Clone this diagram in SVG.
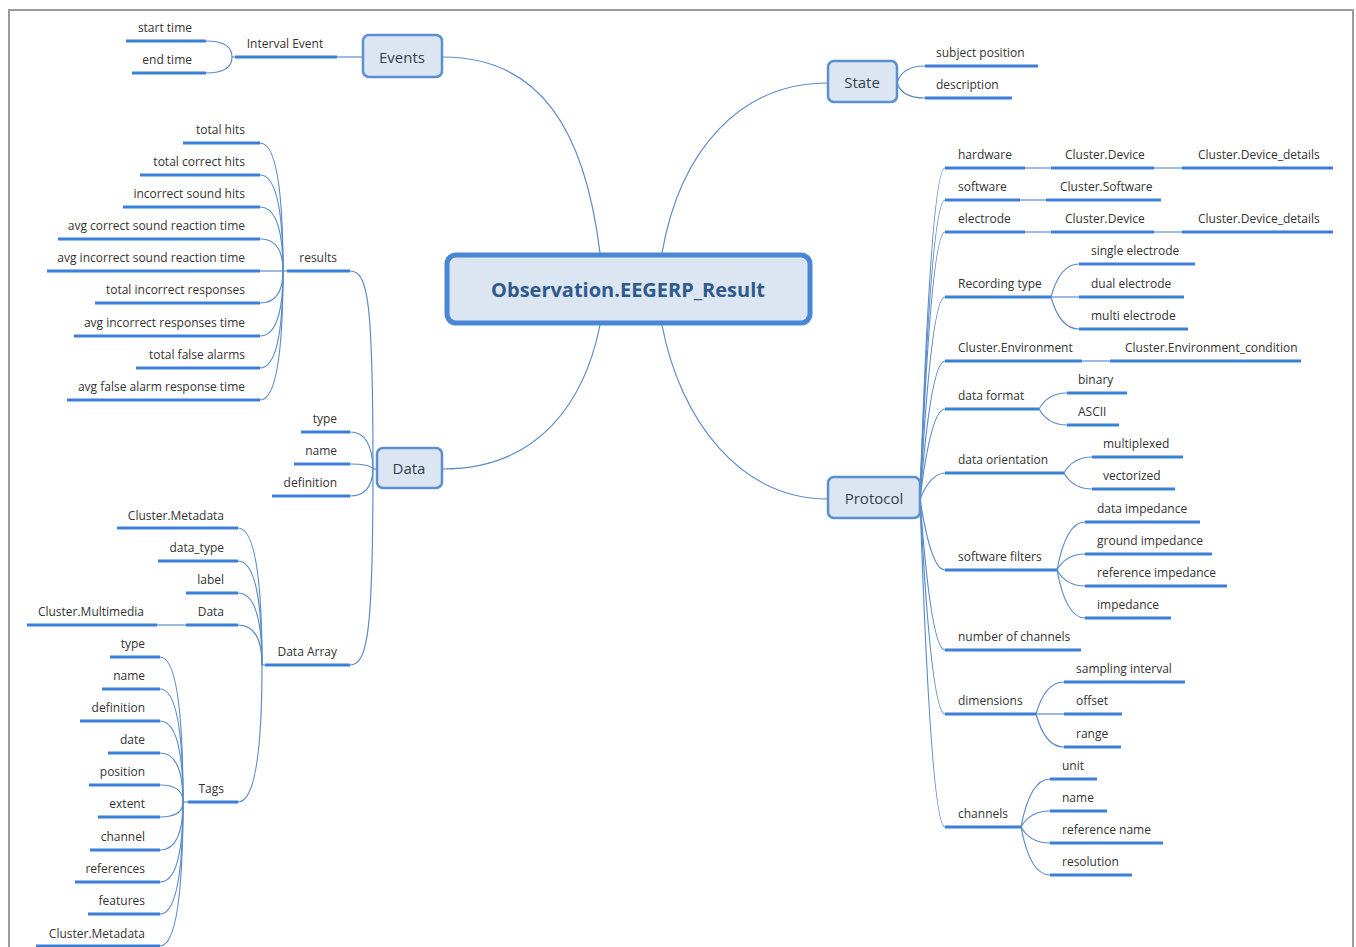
<svg xmlns="http://www.w3.org/2000/svg" width="1356" height="947" viewBox="0 0 1356 947">
  <style>
    .bg { fill: #ffffff; }
    .frame { fill: none; stroke: #9a9a9a; stroke-width: 2; }
    .u { stroke: #3d7fd8; stroke-width: 3; fill: none; }
    .c { stroke: #5b8cc9; stroke-width: 1.2; fill: none; }
    .t { font-family: "Open Sans", "Liberation Sans", sans-serif; font-size: 12px; fill: #333333; }
    .e { text-anchor: end; }
    .m { text-anchor: middle; }
    .box { fill: #dce6f2; stroke: #5b8fd0; stroke-width: 2.5; }
    .bt { font-family: "Open Sans", "Liberation Sans", sans-serif; font-size: 15px; fill: #333f4f; text-anchor: middle; }
    .root { fill: #dce6f2; stroke: #4a86d6; stroke-width: 5; }
    .rt { font-family: "Open Sans", "Liberation Sans", sans-serif; font-size: 20px; font-weight: bold; fill: #2f5a8c; text-anchor: middle; }
  </style>

  <rect class="bg" x="0" y="0" width="1356" height="947"/>
  <path class="frame" d="M9,947 V10 H1353 V947"/>

  <!-- connectors -->
  <g id="connectors">
    <!-- root to main topics -->
    <path class="c" d="M443,57 C540,57 585,130 600,253"/>
    <path class="c" d="M828,83 C740,83 680,150 662,253"/>
    <path class="c" d="M443,469 C540,469 585,400 600,325"/>
    <path class="c" d="M828,499 C740,499 680,420 662,325"/>

    <!-- Events -->
    <path class="c" d="M337,57 H363"/>
    <path class="c" d="M206,41 Q232,41 232,57"/>
    <path class="c" d="M206,73 Q232,73 232,57"/>
    <path class="c" d="M232,57 H235"/>

    <!-- State -->
    <path class="c" d="M897,83 Q902,66 925,66"/>
    <path class="c" d="M897,83 Q902,98 925,98"/>

    <!-- Data trunk -->
    <path class="c" d="M377,469 H373"/>
    <path class="c" d="M350,271 C368,271 373,300 373,469"/>
    <path class="c" d="M350,665 C368,665 373,630 373,469"/>
    <path class="c" d="M350,432 Q372,432 373,469"/>
    <path class="c" d="M350,464 Q370,464 373,469"/>
    <path class="c" d="M350,496 Q372,496 373,469"/>

    <!-- results children -->
    <path class="c" d="M260,143 Q283,143 283,271"/>
    <path class="c" d="M260,175 Q283,175 283,271"/>
    <path class="c" d="M260,207 Q283,207 283,271"/>
    <path class="c" d="M260,239 Q283,239 283,271"/>
    <path class="c" d="M260,271 H287"/>
    <path class="c" d="M260,303 Q283,303 283,271"/>
    <path class="c" d="M260,336 Q283,336 283,271"/>
    <path class="c" d="M260,368 Q283,368 283,271"/>
    <path class="c" d="M260,400 Q283,400 283,271"/>

    <!-- Data Array children -->
    <path class="c" d="M238,528 Q262,528 262,665"/>
    <path class="c" d="M238,561 Q262,561 262,665"/>
    <path class="c" d="M238,593 Q262,593 262,665"/>
    <path class="c" d="M238,625 Q262,625 262,665"/>
    <path class="c" d="M238,802 Q262,802 262,665"/>
    <path class="c" d="M262,665 H265"/>
    <path class="c" d="M157,625 H186"/>

    <!-- Tags children -->
    <path class="c" d="M160,657 Q183,657 183,802"/>
    <path class="c" d="M160,689 Q183,689 183,802"/>
    <path class="c" d="M160,721 Q183,721 183,802"/>
    <path class="c" d="M160,753 Q183,753 183,802"/>
    <path class="c" d="M160,785 Q183,785 183,802"/>
    <path class="c" d="M160,817 Q183,817 183,802"/>
    <path class="c" d="M160,850 Q183,850 183,802"/>
    <path class="c" d="M160,882 Q183,882 183,802"/>
    <path class="c" d="M160,914 Q183,914 183,802"/>
    <path class="c" d="M160,946 Q183,946 183,802"/>
    <path class="c" d="M183,802 H188"/>

    <!-- Protocol children -->
    <path class="c" d="M920,499 Q931,168 945,168"/>
    <path class="c" d="M920,499 Q931,200 945,200"/>
    <path class="c" d="M920,499 Q931,232 945,232"/>
    <path class="c" d="M920,499 Q931,297 945,297"/>
    <path class="c" d="M920,499 Q931,361 945,361"/>
    <path class="c" d="M920,499 Q931,409 945,409"/>
    <path class="c" d="M920,499 Q931,473 945,473"/>
    <path class="c" d="M920,499 Q931,570 945,570"/>
    <path class="c" d="M920,499 Q931,650 945,650"/>
    <path class="c" d="M920,499 Q931,714 945,714"/>
    <path class="c" d="M920,499 Q931,827 945,827"/>

    <!-- Protocol second level -->
    <path class="c" d="M1025,168 H1051"/>
    <path class="c" d="M1154,168 H1182"/>
    <path class="c" d="M1020,200 H1046"/>
    <path class="c" d="M1025,232 H1051"/>
    <path class="c" d="M1154,232 H1182"/>
    <path class="c" d="M1051,297 Q1060,264 1079,264"/>
    <path class="c" d="M1051,297 H1079"/>
    <path class="c" d="M1051,297 Q1060,329 1079,329"/>
    <path class="c" d="M1082,361 H1110"/>
    <path class="c" d="M1039,409 Q1048,393 1067,393"/>
    <path class="c" d="M1039,409 Q1048,425 1067,425"/>
    <path class="c" d="M1064,473 Q1073,457 1092,457"/>
    <path class="c" d="M1064,473 Q1073,489 1092,489"/>
    <path class="c" d="M1057,570 Q1066,522 1085,522"/>
    <path class="c" d="M1057,570 Q1066,554 1085,554"/>
    <path class="c" d="M1057,570 Q1066,586 1085,586"/>
    <path class="c" d="M1057,570 Q1066,618 1085,618"/>
    <path class="c" d="M1036,714 Q1045,682 1064,682"/>
    <path class="c" d="M1036,714 H1064"/>
    <path class="c" d="M1036,714 Q1045,747 1064,747"/>
    <path class="c" d="M1021,827 Q1030,779 1050,779"/>
    <path class="c" d="M1021,827 Q1030,811 1050,811"/>
    <path class="c" d="M1021,827 Q1030,843 1050,843"/>
    <path class="c" d="M1021,827 Q1030,875 1050,875"/>
  </g>

  <!-- central topic -->
  <g id="root">
    <rect class="root" x="447" y="255" width="363" height="68" rx="9"/>
    <text class="rt" x="628" y="297">Observation.EEGERP_Result</text>
  </g>

  <!-- main topics -->
  <g id="events">
    <rect class="box" x="363" y="35" width="79" height="42" rx="6"/>
    <text class="bt" x="402" y="63">Events</text>
  </g>
  <g id="state">
    <rect class="box" x="828" y="61" width="69" height="41" rx="6"/>
    <text class="bt" x="862" y="88">State</text>
  </g>
  <g id="data">
    <rect class="box" x="377" y="448" width="65" height="40" rx="6"/>
    <text class="bt" x="409" y="474">Data</text>
  </g>
  <g id="protocol">
    <rect class="box" x="828" y="477" width="92" height="41" rx="6"/>
    <text class="bt" x="874" y="504">Protocol</text>
  </g>

  <!-- Events subtopics -->
  <g id="interval-event"><path class="u" d="M235,57 H337"/><text class="t" x="285" y="48" text-anchor="middle">Interval Event</text></g>
  <g id="start-time"><path class="u" d="M126,41 H206"/><text class="t e" x="192" y="32">start time</text></g>
  <g id="end-time"><path class="u" d="M132,73 H206"/><text class="t e" x="192" y="64">end time</text></g>

  <!-- State subtopics -->
  <g id="subject-position"><path class="u" d="M925,66 H1038"/><text class="t" x="936" y="57">subject position</text></g>
  <g id="description"><path class="u" d="M925,98 H1012"/><text class="t" x="936" y="89">description</text></g>

  <!-- Data subtopics -->
  <g id="results"><path class="u" d="M287,271 H350"/><text class="t e" x="337" y="262">results</text></g>
  <g id="data-type"><path class="u" d="M301,432 H350"/><text class="t e" x="337" y="423">type</text></g>
  <g id="data-name"><path class="u" d="M294,464 H350"/><text class="t e" x="337" y="455">name</text></g>
  <g id="data-definition"><path class="u" d="M272,496 H350"/><text class="t e" x="337" y="487">definition</text></g>
  <g id="data-array"><path class="u" d="M265,665 H350"/><text class="t e" x="337" y="656">Data Array</text></g>

  <!-- results items -->
  <g id="total-hits"><path class="u" d="M183,143 H260"/><text class="t e" x="245" y="134">total hits</text></g>
  <g id="total-correct-hits"><path class="u" d="M140,175 H260"/><text class="t e" x="245" y="166">total correct hits</text></g>
  <g id="incorrect-sound-hits"><path class="u" d="M123,207 H260"/><text class="t e" x="245" y="198">incorrect sound hits</text></g>
  <g id="avg-correct-sound-rt"><path class="u" d="M58,239 H260"/><text class="t e" x="245" y="230">avg correct sound reaction time</text></g>
  <g id="avg-incorrect-sound-rt"><path class="u" d="M47,271 H260"/><text class="t e" x="245" y="262">avg incorrect sound reaction time</text></g>
  <g id="total-incorrect-responses"><path class="u" d="M95,303 H260"/><text class="t e" x="245" y="294">total incorrect responses</text></g>
  <g id="avg-incorrect-responses-time"><path class="u" d="M74,336 H260"/><text class="t e" x="245" y="327">avg incorrect responses time</text></g>
  <g id="total-false-alarms"><path class="u" d="M136,368 H260"/><text class="t e" x="245" y="359">total false alarms</text></g>
  <g id="avg-false-alarm-rt"><path class="u" d="M67,400 H260"/><text class="t e" x="245" y="391">avg false alarm response time</text></g>

  <!-- Data Array items -->
  <g id="da-cluster-metadata"><path class="u" d="M117,528 H238"/><text class="t e" x="224" y="520">Cluster.Metadata</text></g>
  <g id="da-data-type"><path class="u" d="M158,561 H238"/><text class="t e" x="224" y="552">data_type</text></g>
  <g id="da-label"><path class="u" d="M186,593 H238"/><text class="t e" x="224" y="584">label</text></g>
  <g id="da-data"><path class="u" d="M186,625 H238"/><text class="t e" x="224" y="616">Data</text></g>
  <g id="cluster-multimedia"><path class="u" d="M27,625 H157"/><text class="t e" x="144" y="616">Cluster.Multimedia</text></g>
  <g id="tags"><path class="u" d="M188,802 H238"/><text class="t e" x="224" y="793">Tags</text></g>

  <!-- Tags items -->
  <g id="tag-type"><path class="u" d="M110,657 H160"/><text class="t e" x="145" y="648">type</text></g>
  <g id="tag-name"><path class="u" d="M102,689 H160"/><text class="t e" x="145" y="680">name</text></g>
  <g id="tag-definition"><path class="u" d="M80,721 H160"/><text class="t e" x="145" y="712">definition</text></g>
  <g id="tag-date"><path class="u" d="M108,753 H160"/><text class="t e" x="145" y="744">date</text></g>
  <g id="tag-position"><path class="u" d="M89,785 H160"/><text class="t e" x="145" y="776">position</text></g>
  <g id="tag-extent"><path class="u" d="M98,817 H160"/><text class="t e" x="145" y="808">extent</text></g>
  <g id="tag-channel"><path class="u" d="M90,850 H160"/><text class="t e" x="145" y="841">channel</text></g>
  <g id="tag-references"><path class="u" d="M75,882 H160"/><text class="t e" x="145" y="873">references</text></g>
  <g id="tag-features"><path class="u" d="M88,914 H160"/><text class="t e" x="145" y="905">features</text></g>
  <g id="tag-cluster-metadata"><path class="u" d="M36,946 H160"/><text class="t e" x="145" y="938">Cluster.Metadata</text></g>

  <!-- Protocol subtopics -->
  <g id="hardware"><path class="u" d="M945,168 H1025"/><text class="t" x="958" y="159">hardware</text></g>
  <g id="hw-cluster-device"><path class="u" d="M1051,168 H1154"/><text class="t" x="1065" y="159">Cluster.Device</text></g>
  <g id="hw-cluster-device-details"><path class="u" d="M1182,168 H1333"/><text class="t" x="1198" y="159">Cluster.Device_details</text></g>
  <g id="software"><path class="u" d="M945,200 H1020"/><text class="t" x="958" y="191">software</text></g>
  <g id="cluster-software"><path class="u" d="M1046,200 H1161"/><text class="t" x="1060" y="191">Cluster.Software</text></g>
  <g id="electrode"><path class="u" d="M945,232 H1025"/><text class="t" x="958" y="223">electrode</text></g>
  <g id="el-cluster-device"><path class="u" d="M1051,232 H1154"/><text class="t" x="1065" y="223">Cluster.Device</text></g>
  <g id="el-cluster-device-details"><path class="u" d="M1182,232 H1333"/><text class="t" x="1198" y="223">Cluster.Device_details</text></g>
  <g id="recording-type"><path class="u" d="M945,297 H1051"/><text class="t" x="958" y="288">Recording type</text></g>
  <g id="single-electrode"><path class="u" d="M1079,264 H1195"/><text class="t" x="1091" y="255">single electrode</text></g>
  <g id="dual-electrode"><path class="u" d="M1079,297 H1184"/><text class="t" x="1091" y="288">dual electrode</text></g>
  <g id="multi-electrode"><path class="u" d="M1079,329 H1188"/><text class="t" x="1091" y="320">multi electrode</text></g>
  <g id="cluster-environment"><path class="u" d="M945,361 H1082"/><text class="t" x="958" y="352">Cluster.Environment</text></g>
  <g id="cluster-environment-condition"><path class="u" d="M1110,361 H1301"/><text class="t" x="1125" y="352">Cluster.Environment_condition</text></g>
  <g id="data-format"><path class="u" d="M945,409 H1039"/><text class="t" x="958" y="400">data format</text></g>
  <g id="binary"><path class="u" d="M1067,393 H1127"/><text class="t" x="1078" y="384">binary</text></g>
  <g id="ascii"><path class="u" d="M1067,425 H1119"/><text class="t" x="1078" y="416">ASCII</text></g>
  <g id="data-orientation"><path class="u" d="M945,473 H1064"/><text class="t" x="958" y="464">data orientation</text></g>
  <g id="multiplexed"><path class="u" d="M1092,457 H1183"/><text class="t" x="1103" y="448">multiplexed</text></g>
  <g id="vectorized"><path class="u" d="M1092,489 H1175"/><text class="t" x="1103" y="480">vectorized</text></g>
  <g id="software-filters"><path class="u" d="M945,570 H1057"/><text class="t" x="958" y="561">software filters</text></g>
  <g id="data-impedance"><path class="u" d="M1085,522 H1200"/><text class="t" x="1097" y="513">data impedance</text></g>
  <g id="ground-impedance"><path class="u" d="M1085,554 H1212"/><text class="t" x="1097" y="545">ground impedance</text></g>
  <g id="reference-impedance"><path class="u" d="M1085,586 H1227"/><text class="t" x="1097" y="577">reference impedance</text></g>
  <g id="impedance"><path class="u" d="M1085,618 H1171"/><text class="t" x="1097" y="609">impedance</text></g>
  <g id="number-of-channels"><path class="u" d="M945,650 H1081"/><text class="t" x="958" y="641">number of channels</text></g>
  <g id="dimensions"><path class="u" d="M945,714 H1036"/><text class="t" x="958" y="705">dimensions</text></g>
  <g id="sampling-interval"><path class="u" d="M1064,682 H1185"/><text class="t" x="1076" y="673">sampling interval</text></g>
  <g id="offset"><path class="u" d="M1064,714 H1122"/><text class="t" x="1076" y="705">offset</text></g>
  <g id="range"><path class="u" d="M1064,747 H1121"/><text class="t" x="1076" y="738">range</text></g>
  <g id="channels"><path class="u" d="M945,827 H1021"/><text class="t" x="958" y="818">channels</text></g>
  <g id="unit"><path class="u" d="M1050,779 H1097"/><text class="t" x="1062" y="770">unit</text></g>
  <g id="ch-name"><path class="u" d="M1050,811 H1107"/><text class="t" x="1062" y="802">name</text></g>
  <g id="reference-name"><path class="u" d="M1050,843 H1163"/><text class="t" x="1062" y="834">reference name</text></g>
  <g id="resolution"><path class="u" d="M1050,875 H1132"/><text class="t" x="1062" y="866">resolution</text></g>
</svg>
